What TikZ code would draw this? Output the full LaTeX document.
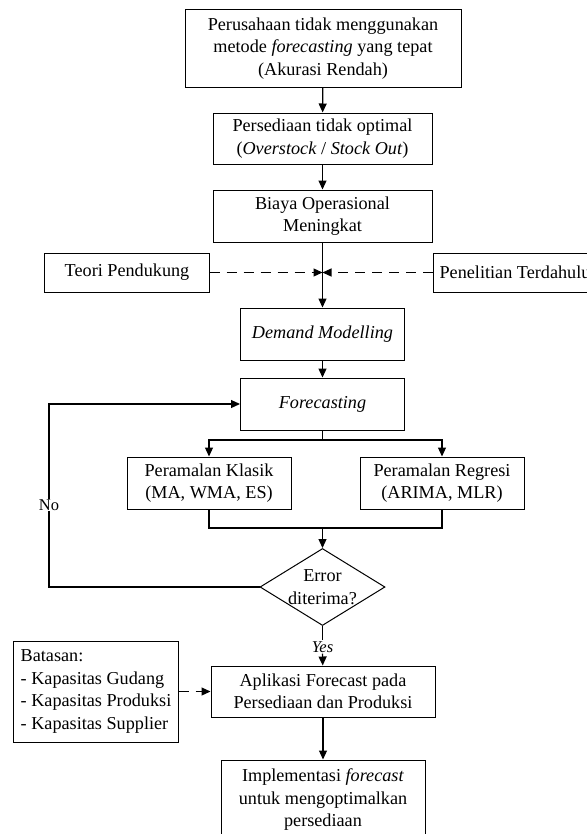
\documentclass[tikz,border=0pt]{standalone}
\usepackage{fontspec}
\setmainfont{Liberation Serif}
\usetikzlibrary{arrows.meta,shapes.geometric}

\begin{document}
\begin{tikzpicture}[x=1bp,y=-1bp,
  box/.style={draw,line width=1bp,minimum width=164bp,minimum height=52bp,inner sep=2bp,
    align=center,font=\fontsize{18.2bp}{22.5bp}\selectfont},
  dec/.style={draw,line width=1bp,shape=diamond,minimum width=125bp,minimum height=77bp,inner sep=0pt},
  arr/.style={-{Triangle[length=9bp,width=8bp]},line width=1.2bp},
  darr/.style={arr,dash pattern=on 10bp off 7bp},
  lbl/.style={font=\fontsize{16.5bp}{18bp}\selectfont,inner sep=1bp}]
  \useasboundingbox (0,0) rectangle (587,834);
  % alur masalah
  \node[box,minimum width=276bp,minimum height=77bp] (mslh) at (323,48.5)
    {Perusahaan tidak menggunakan\\metode \textit{forecasting} yang tepat\\(Akurasi Rendah)};
  \node[box,minimum width=219bp,minimum height=51bp] (sedia) at (322.5,138.5)
    {Persediaan tidak optimal\\(\textit{Overstock} / \textit{Stock Out})};
  \node[box,minimum width=219bp] (biaya) at (322.5,216) {Biaya Operasional\\Meningkat};
  \node[box,minimum height=39bp] (teori) at (127,272.5) {Teori Pendukung};
  \node[box,minimum height=39bp] (riset) at (515,272.5) {Penelitian Terdahulu};
  \coordinate (mid) at (322.5,272.5);
  \node[box] (dm) at (322.5,334) {\textit{Demand Modelling}};
  \node[box] (fc) at (322.5,404) {\textit{Forecasting}};
  \node[box] (klasik) at (209,483) {Peramalan Klasik\\(MA, WMA, ES)};
  \node[box] (regresi) at (442,483) {Peramalan Regresi\\(ARIMA, MLR)};
  \node[dec,label={[box,draw=none,minimum size=0pt,inner sep=0pt]center:Error\\diterima?}] (err) at (322.5,587) {};
  \node[lbl,font=\fontsize{16.5bp}{18bp}\selectfont\itshape] (yes) at (322.5,647) {Yes};
  \node[box,minimum width=224bp,minimum height=51bp] (apl) at (323,691.5)
    {Aplikasi Forecast pada\\Persediaan dan Produksi};
  \node[box,minimum height=101bp,align=left] (batas) at (96,691.5)
    {Batasan:\\- Kapasitas Gudang\\- Kapasitas Produksi\\- Kapasitas Supplier};
  \node[box,minimum width=204bp,minimum height=80bp] (impl) at (323,800)
    {Implementasi \textit{forecast}\\untuk mengoptimalkan\\persediaan};
  % penghubung
  \draw[arr] (mslh) -- (sedia);
  \draw[arr] (sedia) -- (biaya);
  \draw[arr] (biaya) -- (dm);
  \draw[darr] (teori) -- (mid);
  \draw[darr] (riset) -- (mid);
  \draw[arr] (dm) -- (fc);
  \coordinate (sp) at (322.5,440);
  \draw[line width=1.2bp] (fc) -- (sp);
  \draw[arr] (sp) -| (klasik);
  \draw[arr] (sp) -| (regresi);
  \coordinate (mg) at (322.5,528);
  \draw[line width=1.2bp] (klasik) |- (mg);
  \draw[line width=1.2bp] (regresi) |- (mg);
  \draw[arr] (mg) -- (err);
  \coordinate (lp) at (49,587);
  \draw[arr] (err.west) -- (lp) |- (fc.west);
  \node[lbl,fill=white] (no) at (49,505) {No};
  \draw[line width=1.2bp] (err) -- (yes);
  \draw[arr] (yes) -- (apl);
  \draw[darr] (batas) -- (apl);
  \draw[arr] (apl) -- (impl);
\end{tikzpicture}
\end{document}
